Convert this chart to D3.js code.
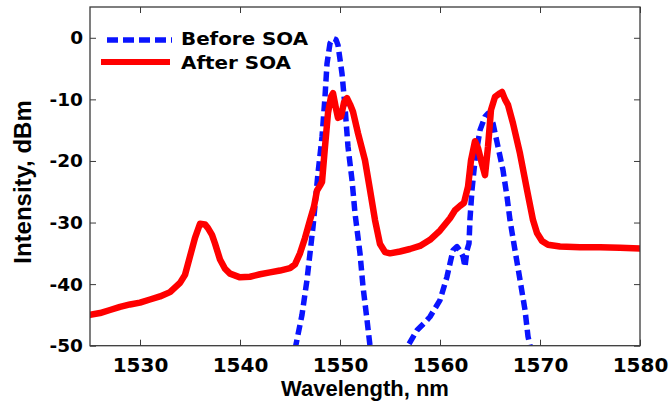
<!DOCTYPE html>
<html>
<head>
<meta charset="utf-8">
<script src="https://cdn.jsdelivr.net/npm/d3@7"></script>
<style>
  html, body { margin: 0; padding: 0; background: #fff; }
  svg { display: block; }
  text { font-family: "DejaVu Sans", sans-serif; font-weight: bold; fill: #000; }
  .title { font-family: "Liberation Sans", Arial, sans-serif; }
</style>
</head>
<body>
<svg id="chart" width="670" height="405"></svg>
<script>
// ---- Data ----
const xTicks = [1530, 1540, 1550, 1560, 1570, 1580];
const yTicks = [0, -10, -20, -30, -40, -50];
const seriesNames = ["Before SOA", "After SOA"];

// Before SOA (blue dashed)
const beforeWavelength = [1545.2, 1545.7, 1546.2, 1546.7, 1547.3, 1547.8, 1548.2, 1548.5, 1548.7, 1549.0,
  1549.3, 1549.6, 1549.8, 1550.2, 1550.5, 1550.8, 1551.2, 1551.5, 1552.0, 1552.3, 1552.7, 1553.0, 1553.3,
  1555.0, 1556.5, 1556.8, 1557.7, 1558.5, 1559.0, 1560.0, 1560.7, 1561.3, 1561.7, 1562.0, 1562.3, 1562.5,
  1562.7, 1562.9, 1563.0, 1563.2, 1563.5, 1564.0, 1564.5, 1564.8, 1565.3, 1565.8, 1566.3, 1566.7, 1567.0,
  1567.5, 1568.0, 1568.5, 1568.8, 1569.0, 1569.3];
const beforePower = [-53, -49, -45, -39.3, -30.7, -22, -16.1, -9.6, -4.2, -0.9,
  -0.1, -0.3, -1.2, -5.8, -11.2, -17.7, -23.1, -28.5, -35.0, -40.4, -45.8, -50, -54,
  -58, -52, -50, -47.5, -46.2, -45.3, -42.6, -38.8, -34.5, -33.9, -34.6, -35.5, -37.2,
  -34.5, -33.4, -29.4, -24.7, -19.9, -15.0, -12.8, -12.3, -13.9, -17.7, -21.5, -25.8, -29.6,
  -34.5, -39.3, -44.2, -48.5, -50, -54];

// After SOA (red solid)
const afterWavelength = [1525, 1526, 1527, 1528, 1529, 1530, 1531, 1532, 1533, 1534, 1534.5, 1535, 1535.5,
  1536, 1536.5, 1536.8, 1537.2, 1537.5, 1538, 1538.5, 1539, 1540, 1541, 1542, 1543, 1544, 1545, 1545.5,
  1546, 1546.5, 1547, 1547.4, 1547.7, 1548, 1548.2, 1548.5, 1548.8, 1549.1, 1549.3, 1549.6, 1549.8,
  1550.1, 1550.4, 1550.7, 1551.0, 1551.3, 1551.8, 1552.5, 1553, 1553.5, 1554, 1554.5, 1555, 1556, 1557,
  1558, 1559, 1560, 1561, 1561.5, 1562, 1562.4, 1562.8, 1563.1, 1563.5, 1563.8, 1564.2, 1564.5, 1564.8,
  1565.1, 1565.5, 1566.0, 1566.2, 1566.5, 1566.8, 1567.3, 1568, 1568.7, 1569.3, 1569.7, 1570.2, 1570.8,
  1572, 1574, 1576, 1578, 1580];
const afterPower = [-45.0, -44.7, -44.2, -43.7, -43.3, -43.0, -42.5, -42.0, -41.3, -39.8, -38.5, -35.5, -32.5,
  -30.2, -30.3, -30.9, -32.0, -33.4, -36.0, -37.5, -38.3, -38.9, -38.8, -38.4, -38.1, -37.8, -37.4, -36.8,
  -35.0, -32.5, -29.6, -27.4, -24.8, -24.0, -23.4, -17.7, -12.2, -9.6, -9.0, -11.5, -13.0,
  -12.8, -10.5, -9.8, -10.8, -12.0, -15.5, -19.9, -24.7, -29.6, -33.5, -34.8, -35.0, -34.7, -34.3,
  -33.8, -32.8, -31.3, -29.3, -28.0, -27.3, -26.8, -24.2, -19.9, -16.8, -17.9, -20.5, -22.3, -17.7,
  -11.7, -9.6, -9.0, -8.8, -10.0, -10.9, -13.9, -18.8, -24.7, -29.6, -31.7, -33.0, -33.6,
  -33.9, -34.0, -34.0, -34.1, -34.2];

// ---- Layout ----
const svg = d3.select("#chart");
const mLeft = 90, mRight = 640, mTop = 7, mBottom = 345.7;

const x = d3.scaleLinear().domain([1525, 1580]).range([mLeft, mRight]);
const y = d3.scaleLinear().domain([-50, 5]).range([mBottom, mTop]);

svg.append("defs").append("clipPath").attr("id", "plotclip")
  .append("rect").attr("x", mLeft).attr("y", mTop)
  .attr("width", mRight - mLeft).attr("height", mBottom - mTop);

const toPoints = (xs, ys) => xs.map((d, i) => [d, ys[i]]);
const line = d3.line().x(d => x(d[0])).y(d => y(d[1]));

const plot = svg.append("g").attr("clip-path", "url(#plotclip)");

plot.append("path")
  .datum(toPoints(beforeWavelength, beforePower))
  .attr("d", line)
  .attr("fill", "none")
  .attr("stroke", "#0a14ff")
  .attr("stroke-width", 5.5)
  .attr("stroke-dasharray", "10,5")
  .attr("stroke-linejoin", "round");

plot.append("path")
  .datum(toPoints(afterWavelength, afterPower))
  .attr("d", line)
  .attr("fill", "none")
  .attr("stroke", "#ff0000")
  .attr("stroke-width", 6.5)
  .attr("stroke-linejoin", "round")
  .attr("stroke-linecap", "round");

// ---- Axes ----
const axisColor = "#3a3a3a";
function styleAxis(g, size) {
  g.select(".domain").remove();
  g.selectAll(".tick line").attr("stroke", axisColor).attr("stroke-width", 1);
  g.selectAll(".tick text").style("font-size", size + "px").attr("fill", "#000");
}

svg.append("g").attr("transform", `translate(0,${mBottom})`)
  .call(d3.axisBottom(x).tickValues(xTicks).tickSizeInner(-6).tickSizeOuter(0).tickPadding(12).tickFormat(d3.format("d")))
  .call(g => styleAxis(g, 20));
svg.append("g").attr("transform", `translate(0,${mTop})`)
  .call(d3.axisTop(x).tickValues(xTicks).tickSizeInner(-6).tickSizeOuter(0).tickFormat(""))
  .call(g => styleAxis(g, 20));
svg.append("g").attr("transform", `translate(${mLeft},0)`)
  .call(d3.axisLeft(y).tickValues(yTicks).tickSizeInner(-6).tickSizeOuter(0).tickPadding(7).tickFormat(d => d3.format("d")(d).replace("−", "-")))
  .call(g => styleAxis(g, 18.5));
svg.append("g").attr("transform", `translate(${mRight},0)`)
  .call(d3.axisRight(y).tickValues(yTicks).tickSizeInner(-6).tickSizeOuter(0).tickFormat(""))
  .call(g => styleAxis(g, 18.5));

svg.append("rect")
  .attr("x", mLeft).attr("y", mTop)
  .attr("width", mRight - mLeft).attr("height", mBottom - mTop)
  .attr("fill", "none").attr("stroke", axisColor).attr("stroke-width", 1.3);

// ---- Axis titles ----
svg.append("text")
  .attr("class", "title")
  .attr("x", (mLeft + mRight) / 2).attr("y", 396)
  .attr("text-anchor", "middle")
  .style("font-size", "22px")
  .text("Wavelength, nm");

svg.append("text")
  .attr("class", "title")
  .attr("transform", `translate(31,182) rotate(-90)`)
  .attr("text-anchor", "middle")
  .style("font-size", "24px")
  .text("Intensity, dBm");

// ---- Legend ----
const legend = svg.append("g");
legend.append("line")
  .attr("x1", 107).attr("x2", 172).attr("y1", 40).attr("y2", 40)
  .attr("stroke", "#0a14ff").attr("stroke-width", 5.5).attr("stroke-dasharray", "11,5");
legend.append("text").attr("x", 181).attr("y", 44.5).style("font-size", "17.5px")
  .attr("textLength", 127).attr("lengthAdjust", "spacingAndGlyphs").text(seriesNames[0]);
legend.append("line")
  .attr("x1", 101).attr("x2", 170).attr("y1", 62).attr("y2", 62)
  .attr("stroke", "#ff0000").attr("stroke-width", 6);
legend.append("text").attr("x", 181).attr("y", 68.5).style("font-size", "17.5px")
  .attr("textLength", 110).attr("lengthAdjust", "spacingAndGlyphs").text(seriesNames[1]);
</script>
</body>
</html>
